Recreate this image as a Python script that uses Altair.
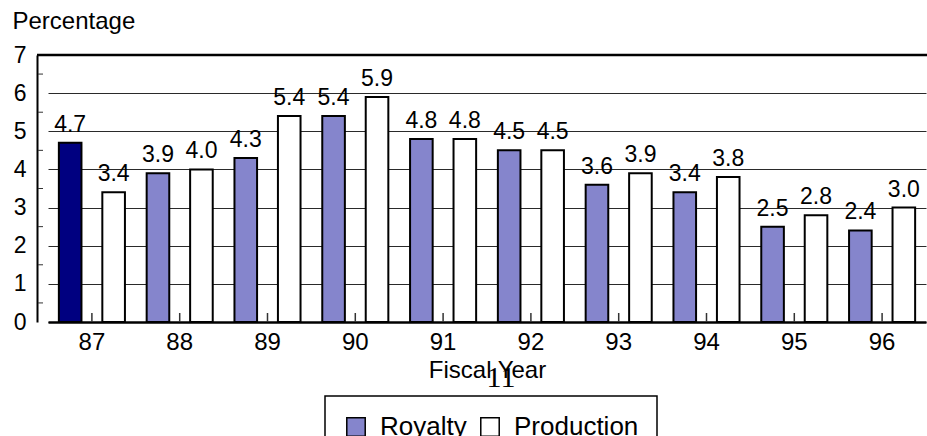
import altair as alt
import pandas as pd

# Fiscal years and the two percentage series
years = ["87", "88", "89", "90", "91", "92", "93", "94", "95", "96"]
royalty = [4.7, 3.9, 4.3, 5.4, 4.8, 4.5, 3.6, 3.4, 2.5, 2.4]
production = [3.4, 4.0, 5.4, 5.9, 4.8, 4.5, 3.9, 3.8, 2.8, 3.0]
series_names = ["Royalty", "Production"]
y_ticks = [0, 1, 2, 3, 4, 5, 6, 7]
half_ticks = [0.5, 1.5, 2.5, 3.5, 4.5, 5.5, 6.5]

rows = []
for y, r, p in zip(years, royalty, production):
    rows.append({"year": y, "series": "Royalty", "value": r})
    rows.append({"year": y, "series": "Production", "value": p})
df = pd.DataFrame(rows)

FONT = "Liberation Sans"
W, H = 888, 267

x_scale = alt.Scale(domain=years, range=[11, 889], paddingInner=0, paddingOuter=0)
off_scale = alt.Scale(domain=series_names, paddingInner=0.48, paddingOuter=0.25)
y_scale = alt.Scale(domain=[0, 7], nice=False, zero=True)

x_axis = alt.Axis(
    title="Fiscal Year",
    titleFontSize=24,
    titleFontWeight="normal",
    titlePadding=4,
    labelFontSize=24,
    labelPadding=8,
    labelAngle=0,
    ticks=False,
    domainColor="black",
    domainWidth=2.5,
    labelColor="black",
    titleColor="black",
)
y_axis = alt.Axis(
    title="Percentage",
    titleAngle=0,
    titleAlign="left",
    titleBaseline="alphabetic",
    titleX=-25,
    titleY=-27,
    titleFontSize=24,
    titleFontWeight="normal",
    titleColor="black",
    values=y_ticks,
    labelOverlap=False,
    labelFontSize=23,
    labelPadding=11,
    labelColor="black",
    tickSize=0,
    domainColor="black",
    domainWidth=2,
    grid=True,
    gridColor="#2a2a2a",
    gridWidth=1,
)

bars = alt.Chart(df).mark_bar(stroke="black", strokeWidth=2).encode(
    x=alt.X("year:N", scale=x_scale, sort=years, axis=x_axis),
    xOffset=alt.XOffset("series:N", scale=off_scale, sort=series_names),
    y=alt.Y("value:Q", scale=y_scale, axis=y_axis),
    color=alt.condition(
        (alt.datum.year == "87") & (alt.datum.series == "Royalty"),
        alt.value("#000080"),
        alt.Color(
            "series:N",
            scale=alt.Scale(domain=series_names, range=["#8585cc", "#ffffff"]),
            legend=alt.Legend(
                title=None,
                orient="none",
                legendX=288,
                legendY=341,
                direction="horizontal",
                symbolType="square",
                symbolSize=340,
                symbolStrokeColor="black",
                symbolStrokeWidth=1.5,
                labelFontSize=26,
                labelColor="black",
                labelOffset=11,
                columnPadding=10,
                padding=18,
                strokeColor="black",
            ),
        ),
    ),
)

labels = alt.Chart(df).mark_text(
    baseline="bottom", dy=-6, fontSize=23, color="black"
).encode(
    x=alt.X("year:N", scale=x_scale, sort=years, axis=None),
    xOffset=alt.XOffset("series:N", scale=off_scale, sort=series_names),
    y=alt.Y("value:Q", scale=y_scale, axis=None),
    text=alt.Text("value:Q", format=".1f"),
)

# inward tick marks at each fiscal year along the bottom
year_ticks = alt.Chart(pd.DataFrame({"year": years})).mark_rule(
    color="#333333", strokeWidth=1.5
).encode(
    x=alt.X("year:N", scale=x_scale, sort=years, axis=None),
    y=alt.value(H - 9),
    y2=alt.value(H),
)

# minor ticks at half units on the value axis
minor_ticks = alt.Chart(pd.DataFrame({"value": half_ticks})).mark_rule(
    color="#333333", strokeWidth=1
).encode(
    y=alt.Y("value:Q", scale=y_scale, axis=None),
    x=alt.value(1),
    x2=alt.value(6),
)

# heavy top border line at 7
top_line = alt.Chart(pd.DataFrame({"value": [7]})).mark_rule(
    color="black", strokeWidth=2.5
).encode(
    y=alt.Y("value:Q", scale=y_scale, axis=None),
    x=alt.value(0),
    x2=alt.value(W + 2),
)

page_num = alt.Chart(pd.DataFrame({"t": ["11"]})).mark_text(
    font="Liberation Serif", fontSize=30, color="black", baseline="middle", align="center"
).encode(
    text="t:N",
    x=alt.value(464),
    y=alt.value(323),
)

chart = (
    alt.layer(bars, labels, year_ticks, minor_ticks, top_line, page_num)
    .resolve_axis(x="independent", y="independent")
    .properties(
        width=W,
        height=H,
        autosize=alt.AutoSizeParams(type="none"),
        padding={"left": 37, "top": 55, "right": 2, "bottom": 114},
    )
    .configure(font=FONT)
    .configure_view(stroke=None)
    .configure_axis(labelFont=FONT, titleFont=FONT)
    .configure_legend(labelFont=FONT, strokeWidth=1.5)
)

chart.save("out.html", embed_options={"renderer": "svg", "actions": False})
